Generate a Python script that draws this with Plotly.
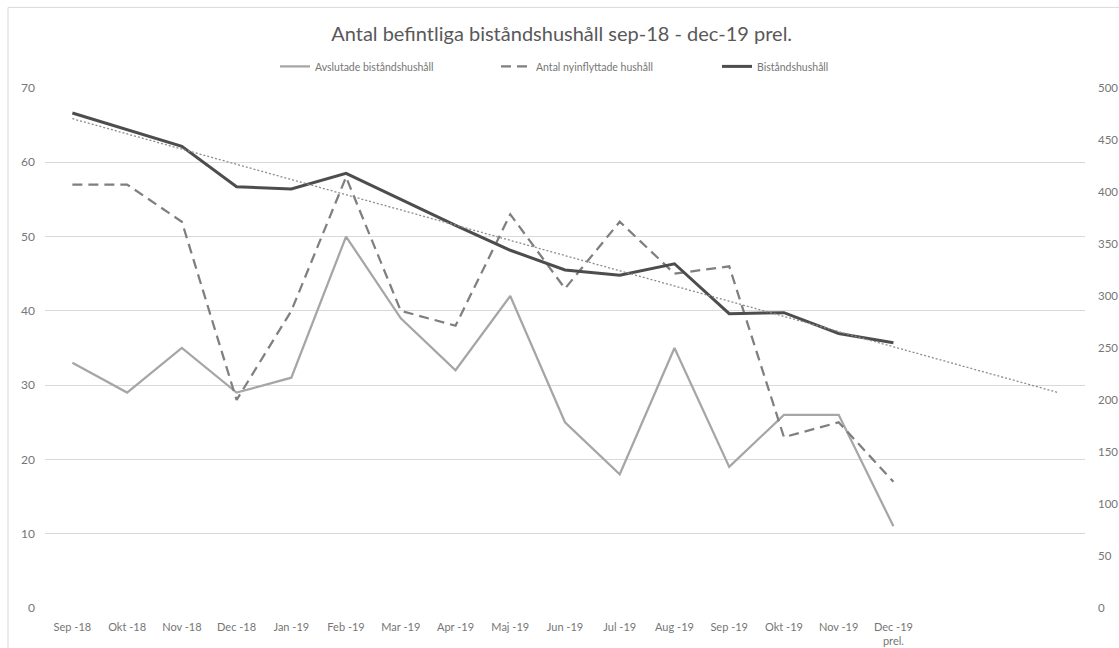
import numpy as np
import plotly.graph_objects as go

# Month labels on the category axis
months = ["Sep -18", "Okt -18", "Nov -18", "Dec -18", "Jan -19", "Feb -19", "Mar -19",
          "Apr -19", "Maj -19", "Jun -19", "Jul -19", "Aug -19", "Sep -19", "Okt -19",
          "Nov -19", "Dec -19<br>prel."]

# Left axis series
avslutade = [33, 29, 35, 29, 31, 50, 39, 32, 42, 25, 18, 35, 19, 26, 26, 11]
nyinflyttade = [57, 57, 52, 28, 40, 58, 40, 38, 53, 43, 52, 45, 46, 23, 25, 17]

# Right axis series
bistand = [476, 460, 444, 405, 403, 418, 393, 368, 344, 325, 320, 331, 283, 284, 264, 255]

# Linear trend for the right-axis series, projected three periods forward
forecast_periods = 3

x = np.arange(len(months))
coef = np.polyfit(x, bistand, 1)
x_trend = np.arange(len(months) + forecast_periods)
y_trend = np.polyval(coef, x_trend)

FONT = "Lato"
TITLE_C = "#595959"
TXT = "#767676"

W, H = 1119, 648
L, R, T, B = 45, 34, 87.6, 40.4
PW, PH = W - L - R, H - T - B

fig = go.Figure()

fig.add_trace(go.Scatter(
    x=x, y=avslutade, name="Avslutade biståndshushåll", mode="lines",
    line=dict(color="#A6A6A6", width=2.25), yaxis="y"))

fig.add_trace(go.Scatter(
    x=x, y=nyinflyttade, name="Antal nyinflyttade hushåll", mode="lines",
    line=dict(color="#7F7F7F", width=2.25, dash="10px,6px"), yaxis="y"))

fig.add_trace(go.Scatter(
    x=x, y=bistand, name="Biståndshushåll", mode="lines",
    line=dict(color="#4D4D4D", width=3), yaxis="y2"))

fig.add_trace(go.Scatter(
    x=x_trend, y=y_trend, name="Linjär (Biståndshushåll)", mode="lines",
    line=dict(color="#8C8C8C", width=1.3, dash="2px,2px"), yaxis="y2",
    showlegend=False))

fig.update_layout(
    width=W, height=H,
    margin=dict(l=L, r=R, t=T, b=B, autoexpand=False),
    paper_bgcolor="white", plot_bgcolor="white",
    font=dict(family=FONT, color=TXT, size=11),
    title=dict(text="Antal befintliga biståndshushåll sep-18 - dec-19 prel.",
               x=(567 - L) / PW, xanchor="center", y=1 - 34 / H, yanchor="middle",
               font=dict(family=FONT, size=20, color=TITLE_C)),
    showlegend=True,
    legend=dict(orientation="h", x=(283 - L - 8) / PW, xanchor="left",
                y=(H - B - 66) / PH, yanchor="middle",
                font=dict(family=FONT, size=10.5, color=TXT),
                entrywidth=176, bgcolor="rgba(0,0,0,0)"),
    xaxis=dict(range=[-0.5, len(x_trend) - 0.5],
               tickmode="array", tickvals=list(x), ticktext=months,
               showgrid=False, zeroline=False, showline=False,
               ticks="", tickfont=dict(size=11, color=TXT),
               ticklabelstandoff=11, automargin=False),
    yaxis=dict(range=[0, 70], tickmode="linear", tick0=0, dtick=10,
               showgrid=True, gridcolor="#D9D9D9", gridwidth=1,
               zeroline=False, showline=False, ticks="",
               tickfont=dict(size=12, color=TXT), ticklabelstandoff=9,
               automargin=False),
    yaxis2=dict(range=[0, 500], tickmode="linear", tick0=0, dtick=50,
                overlaying="y", side="right", showgrid=False,
                zeroline=False, showline=False, ticks="",
                tickfont=dict(size=11.5, color=TXT), ticklabelstandoff=12,
                automargin=False),
    shapes=[dict(type="rect", xref="paper", yref="paper",
                 x0=(8 - L) / PW, x1=(1140 - L) / PW,
                 y0=(H - B - 670) / PH, y1=(H - B - 7) / PH,
                 line=dict(color="#D9D9D9", width=1), fillcolor="rgba(0,0,0,0)",
                 layer="below")],
)

fig.write_html("out.html")
